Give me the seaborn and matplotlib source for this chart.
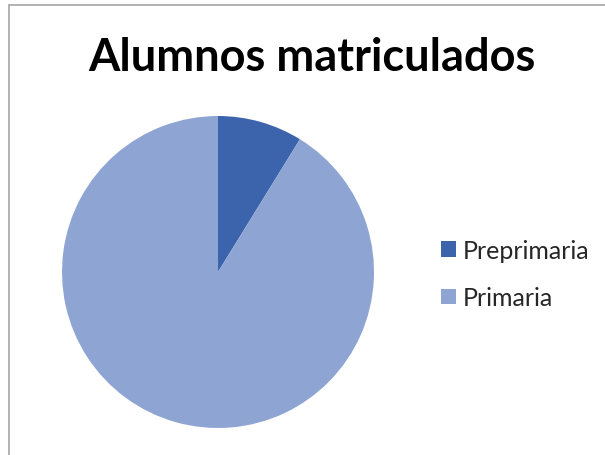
import matplotlib
matplotlib.use("Agg")
import matplotlib.pyplot as plt
from matplotlib.lines import Line2D
from matplotlib.patches import Patch
import seaborn as sns

categories = ["Preprimaria", "Primaria"]
values = [8.8, 91.2]
colors = sns.color_palette(["#3C64AC", "#8EA5D4"])

sns.set_style("white")
plt.rcParams['font.family'] = ['Lato', 'DejaVu Sans']

W, H = 605, 456
fig = plt.figure(figsize=(W / 100, H / 100), dpi=100)

# frame (only left and top visible in the crop)
fig.add_artist(Line2D([9 / W, 9 / W], [0, 1 - 6 / H], color="#A6A6A6", lw=1.2))
fig.add_artist(Line2D([9 / W, 1], [1 - 6 / H, 1 - 6 / H], color="#A6A6A6", lw=1.2))

cx, cy, r = 218, 273, 156
ax = fig.add_axes([(cx - r) / W, (H - cy - r) / H, 2 * r / W, 2 * r / H])
ax.pie(values, colors=colors, startangle=90, counterclock=False,
       wedgeprops=dict(linewidth=0))
ax.set_xlim(-1, 1)
ax.set_ylim(-1, 1)
ax.set_aspect("equal")
ax.axis("off")

fig.text(312 / W, 1 - 58 / H, "Alumnos matriculados", ha="center", va="center",
         fontsize=32.5, fontweight="bold", color="black")

handles = [Patch(facecolor=c, edgecolor="none") for c in colors]
fig.legend(handles, categories, loc="center left", bbox_to_anchor=(418 / W, 1 - 275 / H),
           frameon=False, fontsize=18, handlelength=0.6, handleheight=0.6,
           handletextpad=0.3, labelspacing=0.98)

fig.savefig("out.png", dpi=100)
